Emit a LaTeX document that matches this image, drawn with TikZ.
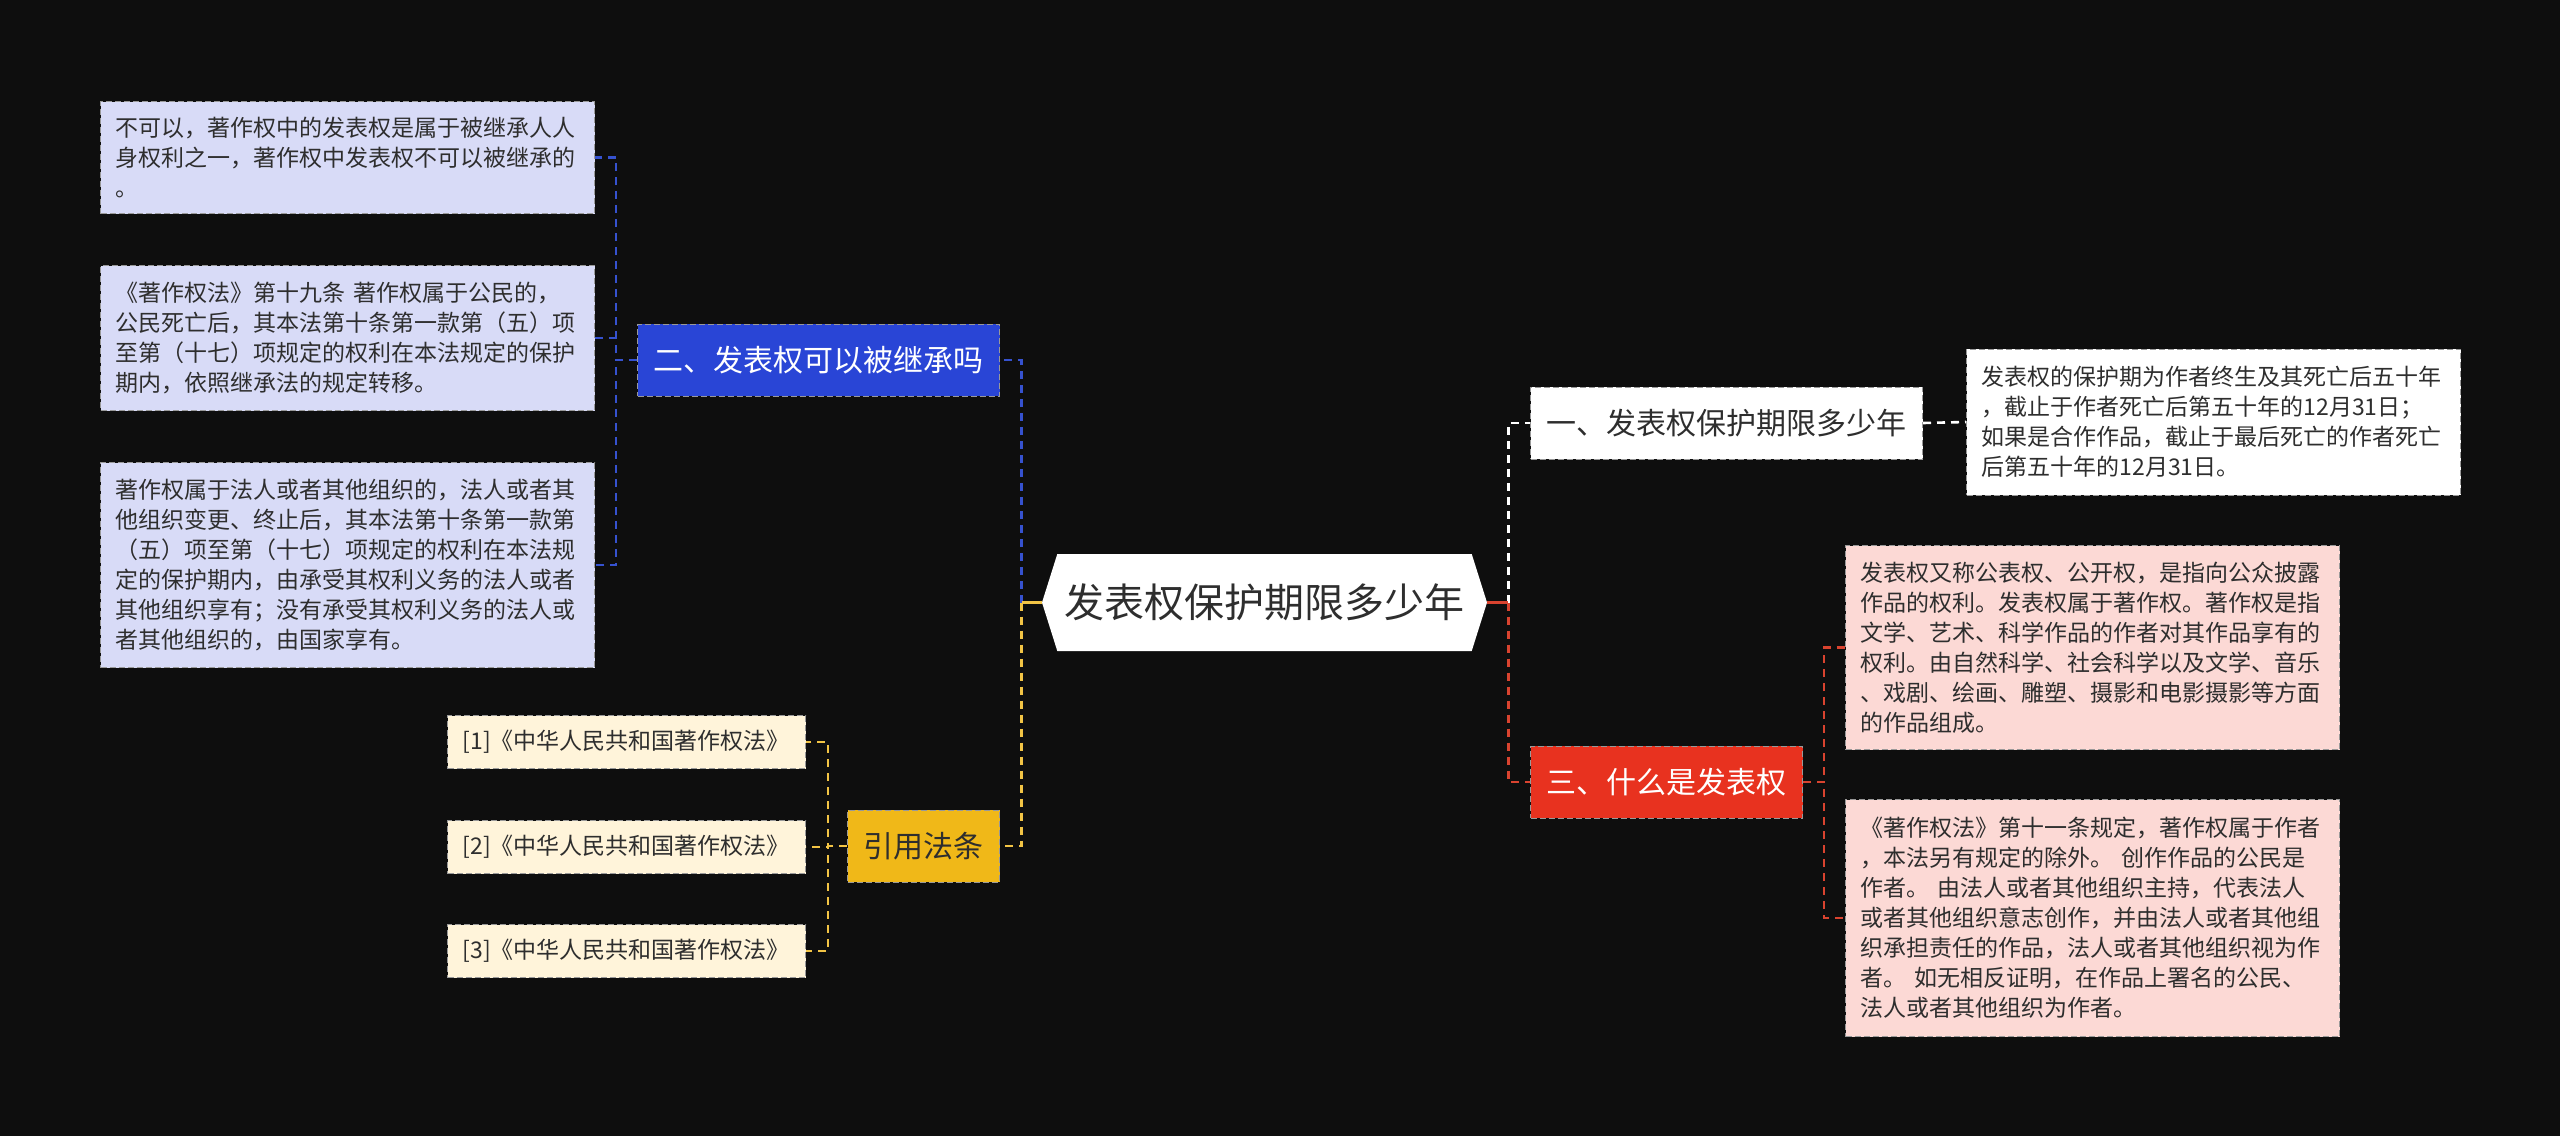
\documentclass[tikz,border=0pt]{standalone}
\usepackage{fontspec}
\setmainfont{Noto Sans CJK SC}
\usepackage{tikz}
\usetikzlibrary{positioning,shapes.symbols}
\definecolor{bg}{HTML}{0E0E0E}
\definecolor{ink}{HTML}{2E2E2E}
\definecolor{leafblue}{HTML}{D8DBF7}
\definecolor{nodeblue}{HTML}{2945D6}
\definecolor{lineblue}{HTML}{3652CF}
\definecolor{leafgold}{HTML}{FFF4DA}
\definecolor{nodegold}{HTML}{F0B818}
\definecolor{linegold}{HTML}{F2C445}
\definecolor{leafred}{HTML}{FCD9D5}
\definecolor{nodered}{HTML}{E8321F}
\definecolor{linered}{HTML}{D9432F}

\begin{document}
\begin{tikzpicture}[
  x={(0.5pt,0)}, y={(0,-0.5pt)},
  root/.style={shape=signal, signal to=west and east, signal pointer angle=145,
               fill=white, minimum width=222.5pt, minimum height=48.5pt,
               inner sep=0pt, font=\fontsize{20}{24}\selectfont, text=ink},
  topic/.style={draw=black!40, line width=0.5pt, dash pattern=on 3pt off 1.5pt,
                inner xsep=8pt, inner ysep=0pt, minimum height=36pt,
                font=\fontsize{15}{18}\selectfont},
  leaf/.style={draw=black!40, line width=0.5pt, dash pattern=on 3pt off 1.5pt,
               align=left, text width=232pt, inner xsep=7.5pt, inner ysep=0pt,
               font=\fontsize{11.5}{15}\selectfont, text=ink},
  cite/.style={leaf, text width=164pt, minimum height=26.5pt, fill=leafgold},
  link/.style={line width=1.3pt, dash pattern=on 4pt off 3pt}
]
\fill[bg] (0,0) rectangle (2560,1136);
\useasboundingbox (0,0) rectangle (2560,1136);

\node[root] (root) at (1264.5,602.5) {发表权保护期限多少年};

\node[topic, fill=nodeblue, text=white] (n2) at (818.5,360) {二、发表权可以被继承吗};
\node[topic, fill=nodegold, text=ink] (law) at (923.5,846) {引用法条};
\node[topic, fill=white, text=ink, anchor=west] (n1) at (1530,423) {一、发表权保护期限多少年};
\node[topic, fill=nodered, text=white, anchor=west] (n3) at (1530,782) {三、什么是发表权};

\node[leaf, fill=leafblue, minimum height=56pt, anchor=north west] (b11) at (100,101)
  {不可以，著作权中的发表权是属于被继承人人\\
   身权利之一，著作权中发表权不可以被继承的\\
   。};
\node[leaf, fill=leafblue, minimum height=72.5pt, below=25.5pt of b11] (b12)
  {《著作权法》第十九条 著作权属于公民的，\\
   公民死亡后，其本法第十条第一款第（五）项\\
   至第（十七）项规定的权利在本法规定的保护\\
   期内，依照继承法的规定转移。};
\node[leaf, fill=leafblue, minimum height=102.5pt, below=25.5pt of b12] (b13)
  {著作权属于法人或者其他组织的，法人或者其\\
   他组织变更、终止后，其本法第十条第一款第\\
   （五）项至第（十七）项规定的权利在本法规\\
   定的保护期内，由承受其权利义务的法人或者\\
   其他组织享有；没有承受其权利义务的法人或\\
   者其他组织的，由国家享有。};

\node[cite, anchor=north west] (c1) at (447,715) {[1]《中华人民共和国著作权法》};
\node[cite, below=25.5pt of c1] (c2) {[2]《中华人民共和国著作权法》};
\node[cite, below=25pt of c2] (c3) {[3]《中华人民共和国著作权法》};

\node[leaf, fill=white, minimum height=73pt, anchor=west] (t1) at (1966,422)
  {发表权的保护期为作者终生及其死亡后五十年\\
   ，截止于作者死亡后第五十年的12月31日；\\
   如果是合作作品，截止于最后死亡的作者死亡\\
   后第五十年的12月31日。};

\node[leaf, fill=leafred, minimum height=102pt, anchor=north west] (r1) at (1845,545)
  {发表权又称公表权、公开权，是指向公众披露\\
   作品的权利。发表权属于著作权。著作权是指\\
   文学、艺术、科学作品的作者对其作品享有的\\
   权利。由自然科学、社会科学以及文学、音乐\\
   、戏剧、绘画、雕塑、摄影和电影摄影等方面\\
   的作品组成。};
\node[leaf, fill=leafred, minimum height=118.5pt, below=24.5pt of r1] (r2)
  {《著作权法》第十一条规定，著作权属于作者\\
   ，本法另有规定的除外。 创作作品的公民是\\
   作者。 由法人或者其他组织主持，代表法人\\
   或者其他组织意志创作，并由法人或者其他组\\
   织承担责任的作品，法人或者其他组织视为作\\
   者。 如无相反证明，在作品上署名的公民、\\
   法人或者其他组织为作者。};

\coordinate (lj) at ([xshift=-10pt]root.west);
\coordinate (rj) at ([xshift=10.5pt]root.east);
\draw[link, lineblue] (lj) |- (n2.east);
\draw[link, linegold] (lj) |- (law.east);
\draw[linegold, line width=1.3pt] (root.west) -- (lj);
\draw[link, white] (rj) |- (n1.west);
\draw[link, linered] (rj) |- (n3.west);
\draw[linered, line width=1.3pt] (root.east) -- (rj);

\coordinate (bj) at ([xshift=-10.5pt]n2.west);
\foreach \k in {b11,b12,b13}
  \draw[link, lineblue] (n2.west) -- (bj) |- (\k.east);
\coordinate (cj) at ([xshift=-9.5pt]law.west);
\foreach \k in {c1,c2,c3}
  \draw[link, linegold] (law.west) -- (cj) |- (\k.east);
\coordinate (tj) at ([xshift=10.5pt]n3.east);
\foreach \k in {r1,r2}
  \draw[link, linered] (n3.east) -- (tj) |- (\k.west);
\draw[link, white] (n1.east) -- (t1.west);
\end{tikzpicture}
\end{document}
